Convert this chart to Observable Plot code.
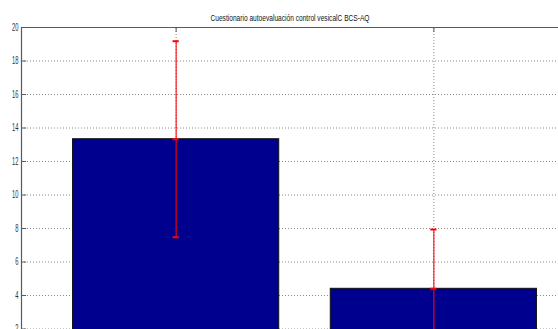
<!DOCTYPE html>
<html>
<head>
<meta charset="utf-8">
<script src="https://cdn.jsdelivr.net/npm/d3@7"></script>
<script src="https://cdn.jsdelivr.net/npm/@observablehq/plot@0.6"></script>
<style>
  html, body { margin: 0; padding: 0; background: #fff; }
  svg { display: block; }
</style>
</head>
<body>
<script>
// Questionnaire scores: mean with error bar per group
const chartTitle = "Cuestionario autoevaluación control vesicalC BCS-AQ";
const categories = [1, 2];
const means = [13.33, 4.4];
const errors = [5.85, 3.54];
const yTicks = [2, 4, 6, 8, 10, 12, 14, 16, 18, 20];

const rows = categories.map((c, i) => ({
  cat: c,
  mean: means[i],
  lo: means[i] - errors[i],
  hi: means[i] + errors[i]
}));

const xDomain = [0.4, 2.6];
const halfBar = 0.4;      // bar width 0.8 in category units
const capHalf = 0.012;    // half-width of the error-bar caps
const tickLenY = 0.3;     // inward tick length along y (data units)
const tickLenX = 0.02;    // inward tick length along x (data units)
const gridColor = "#8a8a8a";
const axisColor = "#5a5a5a";

const chart = Plot.plot({
  width: 558,
  height: 329,
  marginTop: 27,
  marginLeft: 21,
  marginRight: 0,
  marginBottom: 0,
  style: { fontFamily: "Liberation Sans, Arial, sans-serif", fontSize: "9px", color: "#333" },
  x: { domain: xDomain, range: [21, 588], axis: null },
  y: { domain: [2, 20], range: [328.5, 27], axis: null },
  marks: [
    // dotted grid
    Plot.ruleY(yTicks.filter(t => t < 20), { x1: xDomain[0], x2: xDomain[1], stroke: gridColor, strokeDasharray: "1,2" }),
    Plot.ruleX(categories, { y1: 0, y2: 20, stroke: gridColor, strokeDasharray: "1,2" }),
    // bars
    Plot.rectY(rows, { x1: d => d.cat - halfBar, x2: d => d.cat + halfBar, y1: 0, y2: "mean",
      fill: "#00008f", stroke: "#111", strokeWidth: 1, clip: true }),
    // error bars
    Plot.ruleX(rows, { x: "cat", y1: "lo", y2: "hi", stroke: "#ff0000", strokeWidth: 1.1, clip: true }),
    Plot.ruleY(rows.flatMap(d => [d.lo, d.mean, d.hi].map(v => ({ cat: d.cat, v }))),
      { y: "v", x1: d => d.cat - capHalf, x2: d => d.cat + capHalf, stroke: "#ff0000", strokeWidth: 2, clip: true }),
    // axes box
    Plot.ruleX([xDomain[0]], { y1: 0, y2: 20, stroke: axisColor, strokeWidth: 1.2 }),
    Plot.ruleY([20], { x1: xDomain[0], x2: xDomain[1], stroke: axisColor, strokeWidth: 1.2 }),
    // inward ticks
    Plot.ruleY(yTicks, { x1: xDomain[0], x2: xDomain[0] + tickLenX, stroke: axisColor }),
    Plot.ruleX(categories, { y1: 20, y2: 20 - tickLenY, stroke: axisColor }),
    // tick labels
    Plot.axisY({ ticks: yTicks, tickSize: 0, tickPadding: 3, label: null, fontSize: 10 }),
    // title
    Plot.text([chartTitle], { frameAnchor: "top", lineAnchor: "bottom", dy: -7, fontSize: 9, fill: "#111" })
  ]
});

document.body.appendChild(chart);

// Narrow, Helvetica-style lettering: compress every label horizontally
d3.select(chart).selectAll("text").each(function () {
  const len = this.getComputedTextLength();
  if (!len) return;
  const isTitle = this.textContent === chartTitle;
  const target = isTitle ? 159 : len * 0.58;
  this.setAttribute("textLength", target);
  this.setAttribute("lengthAdjust", "spacingAndGlyphs");
});
</script>
</body>
</html>
